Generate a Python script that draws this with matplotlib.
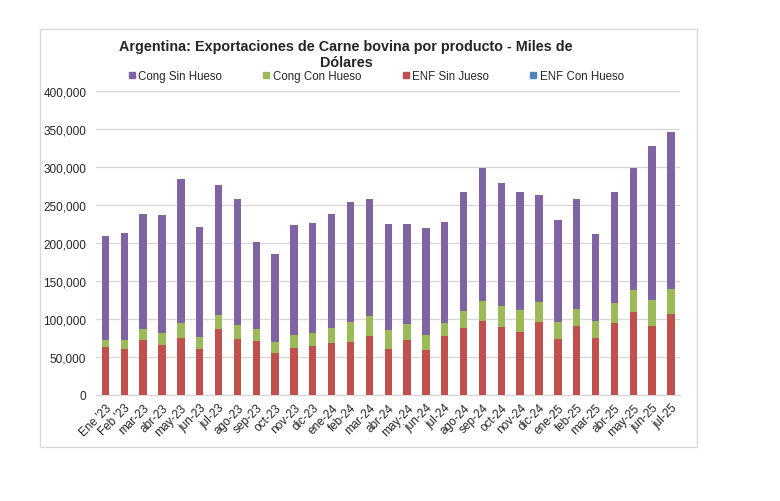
import matplotlib
matplotlib.use("Agg")
import matplotlib.pyplot as plt
from matplotlib.lines import Line2D
from matplotlib.patches import Rectangle
from matplotlib.ticker import FuncFormatter
import numpy as np

plt.rcParams['font.family'] = ['Liberation Sans', 'DejaVu Sans']

categories = ["Ene '23", "Feb '23", "mar-23", "abr-23", "may-23", "jun-23", "jul-23",
              "ago-23", "sep-23", "oct-23", "nov-23", "dic-23", "ene-24", "feb-24",
              "mar-24", "abr-24", "may-24", "jun-24", "jul-24", "ago-24", "sep-24",
              "oct-24", "nov-24", "dic-24", "ene-25", "feb-25", "mar-25", "abr-25",
              "may-25", "jun-25", "jul-25"]

# values (thousand USD)
enf_con_hueso = [0] * 31
enf_sin_jueso = [62100, 59400, 72200, 65600, 74400, 60300, 85800, 72600, 70900, 55000,
                 61600, 63400, 68200, 69500, 76600, 59900, 71300, 58500, 77500, 87600,
                 96400, 89300, 82300, 95900, 72600, 89800, 74800, 94200, 109100, 90200,
                 105600]
cong_con_top = [72200, 71700, 86700, 81000, 94200, 75700, 104300, 91500, 86300, 69500,
                78300, 81000, 88000, 95900, 103400, 84900, 92900, 78800, 94600, 110000,
                122800, 116200, 110900, 121500, 95500, 113100, 96400, 120600, 137800,
                125000, 139500]
total_top = [209500, 213400, 237700, 237200, 284300, 220500, 275900, 257500, 200700,
             185300, 224000, 226200, 237700, 254400, 257500, 225300, 225300, 219200,
             228000, 266700, 299300, 279000, 267100, 263200, 230200, 257500, 211700,
             267600, 298800, 328300, 346800]
cong_con_hueso = [c - e for c, e in zip(cong_con_top, enf_sin_jueso)]
cong_sin_hueso = [t - c for t, c in zip(total_top, cong_con_top)]

series_names = ["ENF Con Hueso", "ENF Sin Jueso", "Cong Con Hueso", "Cong Sin Hueso"]
series_values = [enf_con_hueso, enf_sin_jueso, cong_con_hueso, cong_sin_hueso]
series_colors = ["#4F81BD", "#C0504D", "#9BBB59", "#8064A2"]

W, H = 780, 502
fig = plt.figure(figsize=(W / 100, H / 100), dpi=100)
fig.patch.set_facecolor("white")

# chart frame
fig.patches.append(Rectangle((40 / W, 1 - 448 / H), (697 - 40) / W, (448 - 30) / H,
                             transform=fig.transFigure, fill=False,
                             edgecolor="#d9d9d9", linewidth=1.0))

ax = fig.add_axes([96 / W, 1 - 395.5 / H, (680.4 - 96) / W, (395.5 - 92.3) / H])
x = np.arange(len(categories))
bottom = np.zeros(len(categories))
for name, vals, col in zip(series_names, series_values, series_colors):
    v = np.array(vals, dtype=float)
    ax.bar(x, v, width=0.39, bottom=bottom, color=col, label=name, zorder=3,
           edgecolor="none")
    bottom += v

ax.set_xlim(-0.5, len(categories) - 0.5)
ax.set_ylim(0, 400000)
ax.set_yticks(np.arange(0, 400001, 50000))
ax.yaxis.set_major_formatter(FuncFormatter(lambda v, p: f"{int(v):,}"))
ax.grid(axis="y", color="#d9d9d9", linewidth=1.0, zorder=0)
for s in ["top", "right", "left"]:
    ax.spines[s].set_visible(False)
ax.spines["bottom"].set_color("#d9d9d9")
ax.spines["bottom"].set_linewidth(1.0)
ax.tick_params(axis="both", length=0, labelsize=8.5, colors="#262626")
ax.tick_params(axis="y", pad=7)
ax.set_xticks(x)
ax.set_xticklabels(categories, rotation=45, ha="right", va="top",
                   rotation_mode="anchor")
ax.tick_params(axis="x", pad=5)

fig.text(346 / W, 1 - 55 / H, "Argentina: Exportaciones de Carne bovina por producto - Miles de\nDólares",
         ha="center", va="center", fontsize=10.4, fontweight="bold", color="#262626",
         linespacing=1.1)

handles = [Line2D([0], [0], marker="s", linestyle="none", markersize=4.2,
                  markerfacecolor=c, markeredgecolor=c) for c in series_colors[::-1]]
leg = fig.legend(handles, series_names[::-1], ncol=4, loc="center left",
                 bbox_to_anchor=(129 / W, 1 - 76.7 / H), frameon=False, fontsize=8.3,
                 handlelength=0.5, handletextpad=0.3, columnspacing=3.6,
                 borderpad=0, borderaxespad=0, labelcolor="#262626")

fig.savefig("out.png", dpi=100, facecolor="white")
